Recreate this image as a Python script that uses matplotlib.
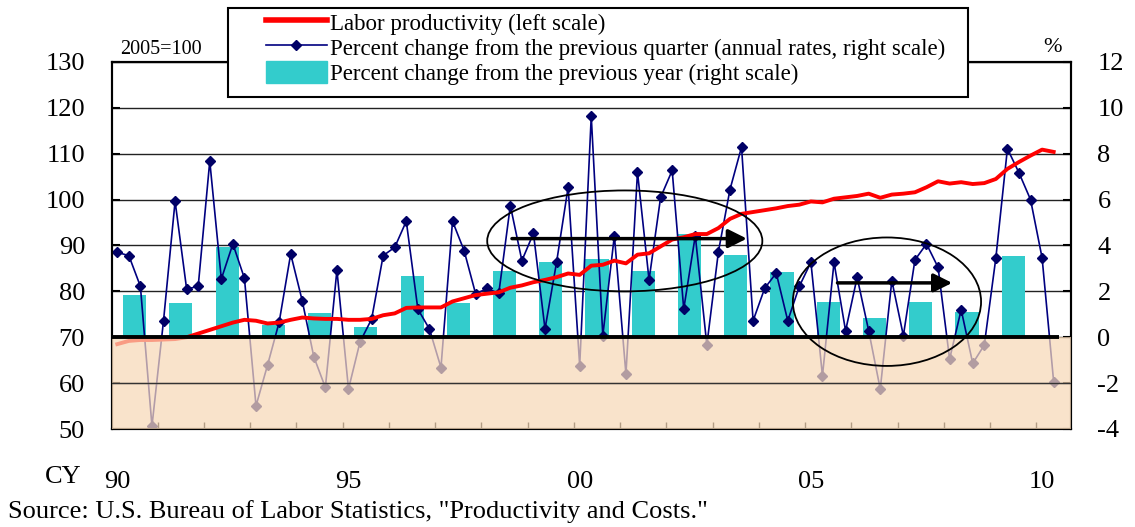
import numpy as np
import matplotlib.pyplot as plt
from matplotlib.patches import Ellipse, Patch, Rectangle
from matplotlib.lines import Line2D

plt.rcParams['font.family'] = ['Liberation Serif', 'DejaVu Serif']
plt.rcParams['axes.unicode_minus'] = False

# labor productivity index, 2005=100 (quarterly, 1990Q1 - 2010Q2)
productivity = [68.5, 69.2, 69.4, 69.4,
                69.5, 69.6, 70.0, 70.8,
                71.6, 72.4, 73.2, 73.8,
                73.6, 73.0, 73.2, 73.8,
                74.3, 74.1, 74.0, 74.0,
                73.8, 73.8, 74.0, 74.8,
                75.2, 76.4, 76.5, 76.5,
                76.5, 77.8, 78.5, 79.2,
                79.5, 79.8, 80.8, 81.3,
                82.0, 82.5, 83.1, 83.9,
                83.6, 85.6, 85.8, 86.7,
                86.1, 88.0, 88.3, 89.8,
                91.3, 91.8, 92.5, 92.5,
                93.8, 95.8, 96.9, 97.3,
                97.7, 98.1, 98.6, 98.9,
                99.6, 99.4, 100.2, 100.5,
                100.8, 101.3, 100.4, 101.1,
                101.3, 101.6, 102.7, 104.0,
                103.5, 103.8, 103.4, 103.6,
                104.5, 106.7, 108.2, 109.6,
                110.9, 110.4]

# percent change from previous quarter, annual rate
qoq = [3.70, 3.56, 2.22, -3.87,
       0.72, 5.93, 2.10, 2.22,
       7.68, 2.54, 4.07, 2.57,
       -2.99, -1.21, 0.65, 3.63,
       1.59, -0.85, -2.19, 2.93,
       -2.26, -0.20, 0.79, 3.56,
       3.92, 5.06, 1.23, 0.36,
       -1.32, 5.06, 3.78, 1.89,
       2.13, 1.91, 5.74, 3.34,
       4.53, 0.36, 3.27, 6.54,
       -1.24, 9.64, 0.07, 4.43,
       -1.61, 7.20, 2.50, 6.10,
       7.27, 1.23, 4.43, -0.34,
       3.73, 6.44, 8.29, 0.72,
       2.13, 2.80, 0.72, 2.22,
       3.27, -1.68, 3.27, 0.28,
       2.61, 0.28, -2.26, 2.47,
       0.07, 3.37, 4.07, 3.05,
       -0.95, 1.20, -1.14, -0.34,
       3.46, 8.22, 7.17, 6.00,
       3.46, -1.94]

# percent change from previous year
years = np.arange(1990, 2010)
yoy = [1.84, 1.48, 3.95, 0.53, 1.04, 0.43, 2.66, 1.49, 2.87, 3.30,
       3.41, 2.87, 4.51, 3.60, 2.83, 1.55, 0.84, 1.52, 1.08, 3.56]

xlabels = ['90', '95', '00', '05', '10']
label_years = [1990, 1995, 2000, 2005, 2010]

xq = 1990 + (np.arange(len(qoq)) + 0.5) / 4

fig = plt.figure(figsize=(11.35, 5.27), dpi=100)
ax = fig.add_axes([111.5/1135, 98/527, 959.5/1135, 367/527])
ax2 = ax.twinx()
ax.set_zorder(ax2.get_zorder() + 1)
ax.patch.set_visible(False)

# right scale: bars and quarterly line
ax2.set_ylim(-4, 12)
ax2.set_yticks(np.arange(-4, 13, 2))
ax2.grid(axis='y', color='#222222', lw=1)
ax2.set_axisbelow(True)
ax2.bar(years + 0.5, yoy, width=0.5, color='#33CCCC', zorder=2)
ax2.plot(xq, qoq, color='#000080', lw=1.2, marker='D', ms=5,
         mfc='#000066', mec='#000066', zorder=3)

# left scale: productivity
ax.set_ylim(50, 130)
ax.set_yticks(np.arange(50, 131, 10))
ax.plot(xq, productivity, color='#FF0000', lw=2.8, zorder=3)
ax.axhspan(50, 70, color='#F8D9B8', alpha=0.72, lw=0, zorder=4)
ax.axhline(60, color='#333333', lw=1, zorder=5)
ax.hlines(70, 1990, 2010.5, color='black', lw=2.8, zorder=6)

# ellipses and arrows
for cx, cy, w, h in [(2001.1, 4.2, 5.95, 4.4), (2006.77, 1.55, 4.07, 5.6)]:
    ax.add_patch(Ellipse((cx, cy), w, h, fill=False, ec='black', lw=1.3,
                         transform=ax2.transData, zorder=7))
for x0, x1, y in [(1998.6, 2003.8, 4.3), (2005.64, 2008.24, 2.37)]:
    ax.annotate('', xy=(x1, y), xytext=(x0, y), xycoords=ax2.transData,
                arrowprops=dict(arrowstyle='-|>', lw=2.5, color='black',
                                mutation_scale=28), zorder=8)

ax.set_xlim(1990, 2010.75)
ax.set_xticks([y + 0.125 for y in label_years])
ax.set_xticklabels(xlabels)
ax.set_xticks(np.arange(1991, 2011), minor=True)
ax.tick_params(axis='x', which='major', length=0, pad=30, labelsize=19)
ax.tick_params(axis='x', which='minor', direction='in', length=5, width=1)
ax.tick_params(axis='y', direction='in', length=6, width=1.5, pad=19, labelsize=19)
ax2.tick_params(axis='y', direction='in', length=6, width=1.5, pad=19, labelsize=19)
for a in (ax, ax2):
    for s in a.spines.values():
        s.set_linewidth(1.5)

# legend: frame drawn separately so the handles can sit further in
fig.patches.append(Rectangle((228/1135, 1 - 97/527), 740/1135, 89/527,
                             transform=fig.transFigure, fill=True, fc='white',
                             ec='black', lw=1.5, zorder=19))
handles = [Line2D([], [], color='#FF0000', lw=4),
           Line2D([], [], color='#000080', lw=1.2, marker='D', ms=5,
                  mfc='#000066', mec='#000066'),
           Patch(color='#33CCCC')]
labels = ['Labor productivity (left scale)',
          'Percent change from the previous quarter (annual rates, right scale)',
          'Percent change from the previous year (right scale)']
leg = fig.legend(handles, labels, loc='upper left',
                 bbox_to_anchor=(266/1135, 1 - 11/527), fontsize=16.5,
                 frameon=False, borderpad=0, labelspacing=0.05,
                 handlelength=2.66, handleheight=1.1, handletextpad=0.15,
                 borderaxespad=0)
leg.set_zorder(20)

fig.text(120/1135, 1 - 49/527, '2005=100', fontsize=14.5, va='center')
fig.text(1052/1135, 1 - 47/527, '%', fontsize=16, va='center', ha='center')
fig.text(45/1135, 1 - 477/527, 'CY', fontsize=19, va='center')
fig.text(8/1135, 1 - 518/527,
         'Source: U.S. Bureau of Labor Statistics, "Productivity and Costs."',
         fontsize=19, va='baseline')

fig.savefig('out.png', dpi=100)
